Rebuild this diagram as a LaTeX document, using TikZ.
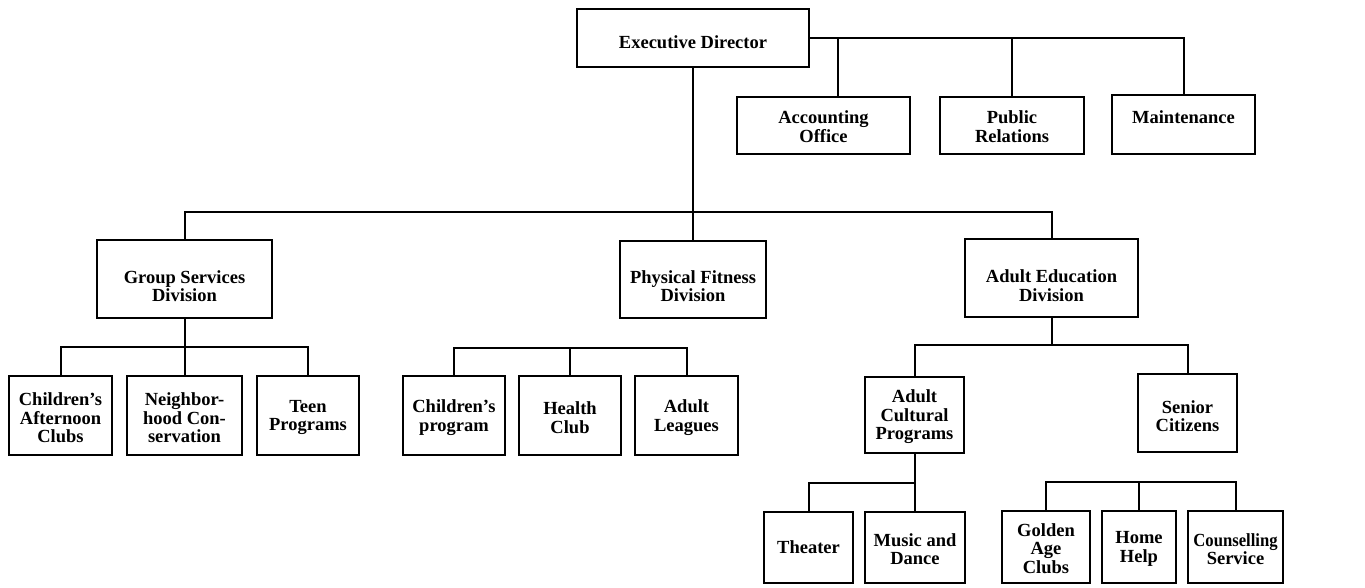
\documentclass[tikz,border=0pt]{standalone}
\usepackage{fontspec}
\newfontfamily\orgfont{Liberation Serif}
\begin{document}
\begin{tikzpicture}[x=1pt,y=-1pt,
  line width=2pt,
  box/.style={draw, rectangle, inner sep=0pt, outer sep=0pt},
  txt/.style={align=center, inner sep=0pt, font={\orgfont\bfseries\fontsize{18.5}{18.4}\selectfont}},
]
\fill[white] (0,0) rectangle (1365,587);
\useasboundingbox (0,0) rectangle (1365,587);

% top level
\node[box, minimum width=232, minimum height=58,
  label={[txt,yshift=-4pt]center:Executive Director}] (ed) at (693,38) {};
\node[box, minimum width=173, minimum height=57,
  label={[txt,yshift=-1pt]center:Accounting\\Office}] (acc) at (823.5,125.5) {};
\node[box, minimum width=144, minimum height=57,
  label={[txt,yshift=-1pt]center:Public\\Relations}] (pr) at (1012,125.5) {};
\node[box, minimum width=143, minimum height=59,
  label={[txt,yshift=7.5pt]center:Maintenance}] (mnt) at (1183.5,124.5) {};

% divisions
\node[box, minimum width=175, minimum height=78,
  label={[txt,yshift=-7pt]center:Group Services\\Division}] (gs) at (184.5,279) {};
\node[box, minimum width=146, minimum height=77,
  label={[txt,yshift=-6.5pt]center:Physical Fitness\\Division}] (pf) at (693,279.5) {};
\node[box, minimum width=173, minimum height=78,
  label={[txt,yshift=-7.5pt]center:Adult Education\\Division}] (ae) at (1051.5,278) {};

% group services children
\node[box, minimum width=103, minimum height=79,
  label={[txt,yshift=-2.5pt]center:Children’s\\Afternoon\\Clubs}] (cac) at (60.5,415.5) {};
\node[box, minimum width=115, minimum height=79,
  label={[txt,yshift=-2.5pt]center:Neighbor-\\hood Con-\\servation}] (nbh) at (184.5,415.5) {};
\node[box, minimum width=102, minimum height=79,
  label={[txt,yshift=-2pt]center:Teen\\Programs}] (teen) at (308,415.5) {};

% physical fitness children
\node[box, minimum width=102, minimum height=79,
  label={[txt,yshift=-2pt]center:Children’s\\program}] (cp) at (454,415.5) {};
\node[box, minimum width=102, minimum height=79,
  label={[txt,yshift=-2pt]center:Health\\Club}] (hc) at (570,415.5) {};
\node[box, minimum width=103, minimum height=79,
  label={[txt,yshift=-2pt]center:Adult\\Leagues}] (al) at (686.5,415.5) {};

% adult education children
\node[box, minimum width=99, minimum height=76,
  label={[txt,yshift=-2pt]center:Adult\\Cultural\\Programs}] (acp) at (914.5,415) {};
\node[box, minimum width=99, minimum height=78,
  label={[txt,yshift=-3pt]center:Senior\\Citizens}] (sc) at (1187.5,413) {};

% bottom row
\node[box, minimum width=89, minimum height=71,
  label={[txt]center:Theater}] (th) at (808.5,547.5) {};
\node[box, minimum width=100, minimum height=71,
  label={[txt,yshift=-1.5pt]center:Music and\\Dance}] (md) at (915,547.5) {};
\node[box, minimum width=88, minimum height=72,
  label={[txt,yshift=-1.5pt]center:Golden\\Age\\Clubs}] (gac) at (1046,547) {};
\node[box, minimum width=74, minimum height=72,
  label={[txt,yshift=-2pt]center:Home\\Help}] (hh) at (1139,547) {};
\node[box, minimum width=95, minimum height=72,
  label={[txt,yshift=-2pt]center:\scalebox{0.9}[1]{Counselling}\\Service}] (cs) at (1235.5,547) {};

% bus coordinates
\coordinate (bus1) at (693,212);
\coordinate (gsbus) at (184.5,347);
\coordinate (pfbus) at (570,348);
\coordinate (aebus) at (1051.5,345);
\coordinate (acpbus) at (914.5,483);
\coordinate (scbus) at (1139,482);
\coordinate (accdrop) at (838,97);

% connectors: staff
\draw (ed.east) -| (mnt.north);
\draw (accdrop) -- (accdrop |- ed.east);
\draw (pr.north) -- (pr.north |- ed.east);

% connectors: divisions
\draw (ed.south) -- (bus1);
\draw (gs.north) -- (gs.north |- bus1) -- (ae.north |- bus1) -- (ae.north);
\draw (pf.north) -- (pf.north |- bus1);

% group services
\draw (gs.south) -- (gsbus);
\draw (cac.north) -- (cac.north |- gsbus) -- (teen.north |- gsbus) -- (teen.north);
\draw (nbh.north) -- (nbh.north |- gsbus);

% physical fitness
\draw (cp.north) -- (cp.north |- pfbus) -- (al.north |- pfbus) -- (al.north);
\draw (hc.north) -- (hc.north |- pfbus);

% adult education
\draw (ae.south) -- (aebus);
\draw (acp.north) -- (acp.north |- aebus) -- (sc.north |- aebus) -- (sc.north);

% adult cultural programs
\draw (acp.south) -- (acpbus);
\draw (th.north) -- (th.north |- acpbus) -- (md.north |- acpbus) -- (md.north);

% senior citizens
\draw (gac.north) -- (gac.north |- scbus) -- (cs.north |- scbus) -- (cs.north);
\draw (hh.north) -- (hh.north |- scbus);
\end{tikzpicture}
\end{document}
